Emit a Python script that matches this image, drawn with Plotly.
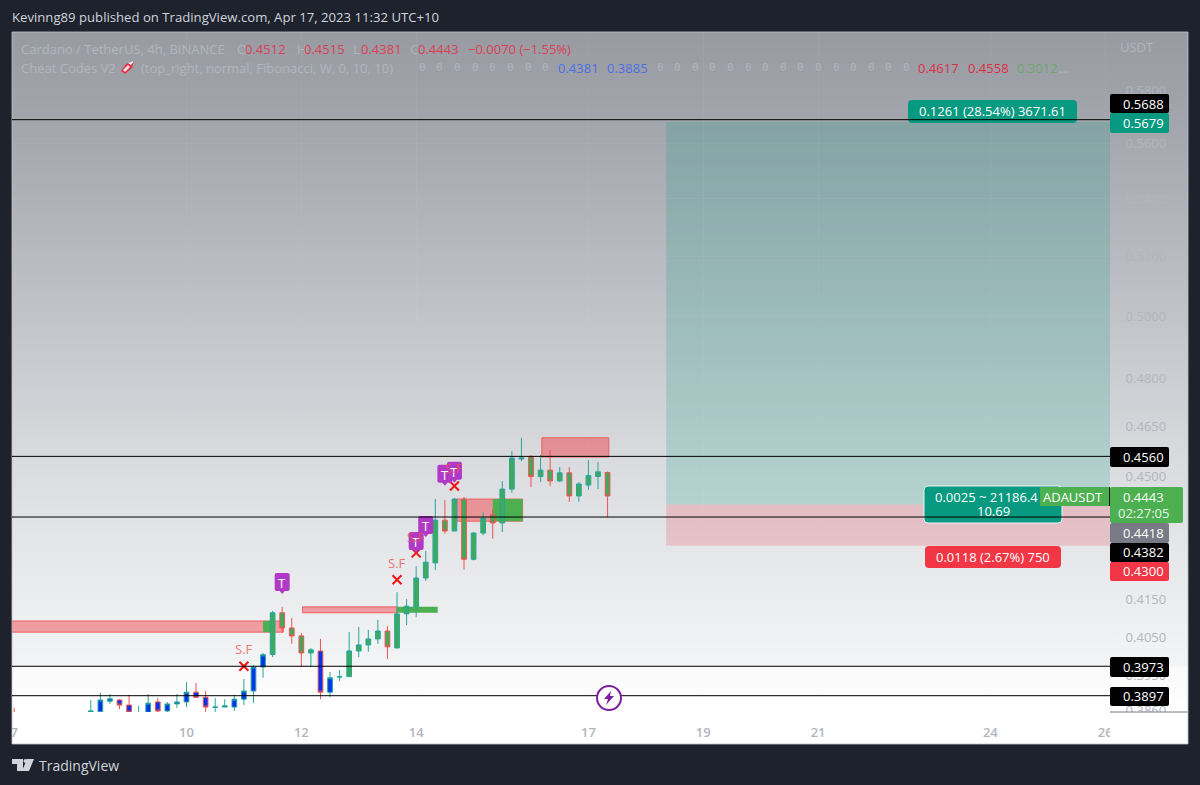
import math
import pandas as pd
import plotly.graph_objects as go

W, H = 1200, 785
FONT = "Open Sans"

# 4h candles for ADA/USDT: one early bar at the left edge, then a continuous run
bar_times = ["2023-04-07 00:00"] + [str(t) for t in pd.date_range("2023-04-08 08:00", periods=55, freq="4h")]
opens = [.3852, .3856, .3856, .3883, .3886, .3873, .3851, .3855, .3881, .3858, .3876, .3881, .3906, .3893, .3867,
         .3868, .3868, .3888, .3909, .3971, .4004, .4115, .4074, .4053, .4008, .4013, .3906, .3945, .3946, .4013,
         .4029, .4045, .4066, .4021, .4112, .4131, .4210, .4252, .4373, .4342, .4434, .4262, .4336, .4388, .4365,
         .4463, .4552, .4558, .4500, .4519, .4487, .4511, .4443, .4475, .4500, .4512]
highs = [.3866, .3886, .3904, .3901, .3888, .3899, .3871, .3901, .3891, .3881, .3901, .3932, .3930, .3909, .3891,
         .3888, .3899, .3940, .3976, .4008, .4120, .4131, .4101, .4061, .4021, .4045, .3958, .3963, .4063, .4077,
         .4069, .4096, .4079, .4171, .4152, .4243, .4285, .4434, .4431, .4437, .4440, .4339, .4396, .4405, .4487,
         .4576, .4616, .4564, .4564, .4579, .4528, .4528, .4484, .4549, .4543, .4515]
lows = [.3850, .3855, .3853, .3876, .3863, .3853, .3845, .3855, .3855, .3855, .3866, .3868, .3891, .3855, .3855,
        .3868, .3858, .3873, .3878, .3943, .3997, .4061, .4032, .3971, .3971, .3888, .3893, .3935, .3946, .3997,
        .4011, .4032, .3992, .4021, .4082, .4103, .4202, .4232, .4334, .4342, .4233, .4259, .4330, .4320, .4339,
        .4452, .4546, .4469, .4484, .4472, .4484, .4426, .4426, .4461, .4463, .4381]
closes = [.3850, .3858, .3886, .3889, .3873, .3855, .3853, .3878, .3858, .3876, .3881, .3906, .3893, .3868, .3868,
          .3871, .3888, .3909, .3971, .4003, .4115, .4074, .4053, .4008, .4016, .3906, .3943, .3946, .4013, .4029,
          .4045, .4066, .4024, .4112, .4133, .4210, .4254, .4373, .4342, .4434, .4262, .4336, .4379, .4365, .4463,
          .4555, .4555, .4500, .4519, .4487, .4511, .4443, .4478, .4503, .4514, .4443]
# Bars coloured blue by the indicator; the rest carry its green body
blue_bars = set(range(0, 20)) | {25, 26}

# Horizontal levels and the long-position tool
levels = [.5688, .4560, .4382, .3973, .3897]
last_price = .4443
entry, target, stop = .4418, .5679, .4300
position_start = "2023-04-18 08:30"

# Supply zones: start, end, bottom, top
red_zones = [("2023-04-06 23:00", "2023-04-11 16:30", .4063, .4093),
             ("2023-04-12 00:30", "2023-04-13 16:00", .4115, .4131),
             ("2023-04-14 17:00", "2023-04-15 20:30", .4370, .4434),
             ("2023-04-16 04:30", "2023-04-17 08:30", .4558, .4616)]
green_zones = [("2023-04-11 08:00", "2023-04-11 12:00", .4063, .4093),
               ("2023-04-13 16:00", "2023-04-14 09:00", .4115, .4131),
               ("2023-04-15 08:00", "2023-04-15 20:30", .4370, .4434)]

# Indicator markers
t_times = ["2023-04-11 16:00", "2023-04-14 00:00", "2023-04-14 04:00", "2023-04-14 12:00", "2023-04-14 16:00"]
t_prices = [.4196, .4311, .4356, .4505, .4514]
x_times = ["2023-04-11 00:00", "2023-04-13 16:00", "2023-04-14 00:00", "2023-04-14 16:00"]
x_prices = [.3973, .4205, .4280, .4472]
sf_prices = [.4018, .4252, .4325, .4525]

# Axis labels
date_ticks = ["2023-04-07", "2023-04-10", "2023-04-12", "2023-04-14", "2023-04-17", "2023-04-19", "2023-04-21",
              "2023-04-24", "2023-04-26"]
date_labels = ["7", "10", "12", "14", "17", "19", "21", "24", "26"]
price_ticks = [.58, .56, .54, .52, .50, .48, .465, .45, .415, .405, .395, .386]

# Backdrop shading from the top of the panel to the bottom
shade_pos = [32, 120, 300, 480, 620, 665, 667, 696, 698, 744]
shade_col = ["#999ba3", "#a3a5ad", "#bfc1c7", "#dcdee1", "#eeeff1", "#f3f4f5", "#fbfbfc", "#fcfcfd", "#ffffff", "#ffffff"]

DARK = "#1e222d"
TEAL = "#089981"
RED = "#f23645"
GREEN = "#4caf50"
PURPLE = "#b03ac6"
AXIS_TEXT = "#b2b5be"


def px(x):
    return x / W


def py(y):
    return 1 - y / H


def box_path(x0, y0, x1, y1, r=0):
    a, b, c, d = px(x0), py(y0), px(x1), py(y1)
    rx, ry = r / W, r / H
    return (f"M{a + rx},{b} L{c - rx},{b} Q{c},{b} {c},{b - ry} L{c},{d + ry} Q{c},{d} {c - rx},{d} "
            f"L{a + rx},{d} Q{a},{d} {a},{d + ry} L{a},{b - ry} Q{a},{b} {a + rx},{b} Z")


def poly(points):
    return "M" + " L".join(f"{px(x)},{py(y)}" for x, y in points) + " Z"


def paper_shape(path, fill, line=None, width=0):
    return dict(type="path", xref="paper", yref="paper", path=path, fillcolor=fill, layer="above",
                line=dict(color=line or "rgba(0,0,0,0)", width=width))


def label(x, y, text, color="#ffffff", size=13, anchor="center", family=FONT):
    return dict(xref="paper", yref="paper", x=px(x), y=py(y), text=text, showarrow=False, xanchor=anchor,
                yanchor="middle", font=dict(family=family, size=size, color=color), borderpad=0, borderwidth=0)


def price_label(when, price, text, color, size):
    # Annotations on a log axis take the log10 of the value
    return dict(xref="x2", yref="y2", x=when, y=math.log10(price), text=text, showarrow=False,
                xanchor="center", yanchor="middle", font=dict(family=FONT, size=size, color=color))


shapes = []
# Zones and position tool sit beneath the candles
for x0, x1, y0, y1 in red_zones:
    shapes.append(dict(type="rect", xref="x2", yref="y2", x0=x0, x1=x1, y0=y0, y1=y1, layer="below",
                       fillcolor="rgba(242,54,60,0.45)", line=dict(color="rgba(239,83,80,0.85)", width=1)))
for x0, x1, y0, y1 in green_zones:
    shapes.append(dict(type="rect", xref="x2", yref="y2", x0=x0, x1=x1, y0=y0, y1=y1, layer="below",
                       fillcolor=GREEN, line=dict(width=0)))
shapes.append(dict(type="rect", xref="x2", yref="y2", x0=position_start, x1="2023-04-26 02:00", y0=entry, y1=target,
                   layer="below", fillcolor="rgba(8,153,129,0.2)", line=dict(width=0)))
shapes.append(dict(type="rect", xref="x2", yref="y2", x0=position_start, x1="2023-04-26 02:00", y0=stop, y1=entry,
                   layer="below", fillcolor="rgba(242,54,69,0.2)", line=dict(width=0)))
shapes.append(dict(type="line", xref="x2 domain", yref="y2", x0=0, x1=1, y0=last_price, y1=last_price, layer="below",
                   line=dict(color="#6f8f7a", width=1, dash="dot")))

# T tags: a rounded badge with a small pointer, sized in pixels around its price
tag_path = ("M -5.5 10 L 5.5 10 Q 7.5 10 7.5 8 L 7.5 -6 Q 7.5 -8 5.5 -8 L 2.5 -8 L 0 -11 L -2.5 -8 L -5.5 -8 "
            "Q -7.5 -8 -7.5 -6 L -7.5 8 Q -7.5 10 -5.5 10 Z")
for when, price in zip(t_times, t_prices):
    shapes.append(dict(type="path", xref="x2", yref="y2", xsizemode="pixel", ysizemode="pixel", xanchor=when,
                       yanchor=price, path=tag_path, fillcolor=PURPLE, layer="above", line=dict(width=0)))

# Frame cover: keeps the clipped edge tick labels inside the panel
shapes += [
    paper_shape(box_path(0, 32, 12, 744), DARK),
    paper_shape(box_path(1110, 712, 1188, 744), "#ffffff"),
    dict(type="line", xref="paper", yref="paper", x0=px(1110), x1=px(1188), y0=py(712), y1=py(712), layer="above",
         line=dict(color="#787b86", width=1)),
    dict(type="rect", xref="paper", yref="paper", x0=px(12), x1=px(1188), y0=py(744), y1=py(32), layer="above",
         fillcolor="rgba(0,0,0,0)", line=dict(color="rgba(190,192,198,0.8)", width=1)),
]

# Position labels
shapes += [
    paper_shape(box_path(908, 100, 1077, 123, 4), TEAL),
    paper_shape(box_path(924, 486, 1062, 523, 4), TEAL, "#e8f4f2", 1),
    paper_shape(box_path(925, 546, 1061, 568, 4), RED),
    paper_shape(box_path(1040, 487, 1110, 506), GREEN),
    dict(type="line", xref="paper", yref="paper", x0=px(1109.5), x1=px(1109.5), y0=py(487), y1=py(506), layer="above",
         line=dict(color="#111111", width=1)),
]

# Price scale badges
for y0, y1, col, x1 in [(94, 113, "#000000", 1169), (113, 133, TEAL, 1169), (447, 467, "#000000", 1169),
                        (487, 523, GREEN, 1183), (523, 543, "#787b86", 1169), (543, 562, "#000000", 1169),
                        (562, 581, RED, 1169), (657, 677, "#000000", 1169), (687, 706, "#000000", 1169)]:
    shapes.append(paper_shape(box_path(1110, y0, x1, y1, 2), col))

# Price levels run across the panel, over the labels
for lv in levels:
    shapes.append(dict(type="line", xref="x2 domain", yref="y2", x0=0, x1=1, y0=lv, y1=lv, layer="above",
                       line=dict(color="#000000", width=1)))

# Lightning badge
shapes.append(dict(type="circle", xref="paper", yref="paper", layer="above", x0=px(597), x1=px(621), y0=py(710),
                   y1=py(686), fillcolor="#ffffff", line=dict(color="#7b1fa2", width=2)))
shapes.append(paper_shape(poly([(611, 691), (604, 699), (608, 699), (606, 705), (614, 696), (610, 696)]), "#7b1fa2"))

# Rocket glyph after the indicator name
shapes.append(paper_shape(poly([(134, 61), (132, 68), (125, 74), (121, 71), (126, 64)]), "#e0334a"))
shapes.append(paper_shape(poly([(134, 61), (131, 65), (128, 63)]), "#f4f4f4"))
shapes.append(paper_shape(poly([(128, 65), (130, 67), (125, 72), (123, 70)]), "#f6dfe2"))

# Brand mark in the footer
shapes += [
    paper_shape(poly([(12, 759), (23, 759), (23, 771), (17, 771), (17, 764), (12, 764)]), "#d1d4dc"),
    paper_shape(poly([(27, 759), (34, 759), (29, 771), (22, 771)]), "#d1d4dc"),
    dict(type="circle", xref="paper", yref="paper", layer="above", x0=px(23.5), x1=px(27.5), y0=py(763), y1=py(759),
         fillcolor="#d1d4dc", line=dict(width=0)),
]

annotations = [
    label(12, 17, "Kevinng89 published on TradingView.com, Apr 17, 2023 11:32 UTC+10", "#d1d4dc", 13.15, "left"),
    label(119, 765, "TradingView", "#d1d4dc", 14, "right"),
    label(21, 49, "Cardano / TetherUS, 4h, BINANCE", AXIS_TEXT, 13, "left"),
    label(21, 68, "Cheat Codes V2", AXIS_TEXT, 13, "left"),
    label(141, 68, "(top_right, normal, Fibonacci, W, 0, 10, 10)", AXIS_TEXT, 13, "left"),
    label(1120, 47, "USDT", AXIS_TEXT, 13, "left"),
]
for x, letter, value in [(237, "O", "0.4512"), (297, "H", "0.4515"), (353, "L", "0.4381"), (410, "C", "0.4443")]:
    annotations.append(label(x, 49, letter, AXIS_TEXT, 13, "left"))
    annotations.append(label(x + (8 if letter != "H" else 7), 49, value, "#dc3f52", 13, "left"))
annotations.append(label(468, 49, "−0.0070 (−1.55%)", "#dc3f52", 13, "left"))
for i in range(8):
    annotations.append(label(422 + i * 17.7, 68, "0", AXIS_TEXT, 11, "center", "DejaVu Sans Mono"))
for i in range(15):
    annotations.append(label(660 + i * 17.6, 68, "0", AXIS_TEXT, 11, "center", "DejaVu Sans Mono"))
for x, value, col in [(558, "0.4381", "#4a6fe3"), (607, "0.3885", "#4a6fe3"), (918, "0.4617", "#dc2f3f"),
                      (968, "0.4558", "#dc2f3f"), (1017, "0.3012", "#6aa86a")]:
    annotations.append(label(x, 68, value, col, 13, "left"))
annotations.append(label(1059, 68, "…", AXIS_TEXT, 13, "left"))

annotations += [
    label(992.5, 111, "0.1261 (28.54%) 3671.61"),
    label(986, 497, "0.0025 ~ 21186.4"),
    label(993, 511, "10.69"),
    label(993, 557, "0.0118 (2.67%) 750"),
    label(1073, 497, "ADAUSDT"),
    label(1143, 104, "0.5688"),
    label(1143, 123, "0.5679"),
    label(1143, 457, "0.4560"),
    label(1143, 497, "0.4443"),
    label(1143, 513, "02:27:05", "#eaf5ea"),
    label(1143, 533, "0.4418"),
    label(1143, 552, "0.4382"),
    label(1143, 571, "0.4300"),
    label(1143, 667, "0.3973"),
    label(1143, 696, "0.3897"),
]
annotations += [price_label(when, price, "T", "#ffffff", 13) for when, price in zip(t_times, t_prices)]
annotations += [price_label(when, price, "S.F", "rgba(239,83,80,0.8)", 13) for when, price in zip(x_times, sf_prices)]

fig = go.Figure()

# Backdrop lives on its own axes so it stays behind the price panel
stops = [[(p - shade_pos[0]) / (shade_pos[-1] - shade_pos[0]), c] for p, c in zip(shade_pos, shade_col)]
fig.add_trace(go.Heatmap(x=[0, 1], y=[shade_pos[0], shade_pos[-1]],
                         z=[[shade_pos[0]] * 2, [shade_pos[-1]] * 2], zmin=shade_pos[0], zmax=shade_pos[-1],
                         zsmooth="best", colorscale=stops, showscale=False, hoverinfo="skip", xaxis="x", yaxis="y"))

for body, members in [("#0033ee", [i for i in range(len(opens)) if i in blue_bars]),
                      ("#3fa95c", [i for i in range(len(opens)) if i not in blue_bars])]:
    fig.add_trace(go.Candlestick(
        x=[bar_times[i] for i in members], open=[opens[i] for i in members], high=[highs[i] for i in members],
        low=[lows[i] for i in members], close=[closes[i] for i in members], xaxis="x2", yaxis="y2",
        whiskerwidth=0, showlegend=False,
        increasing=dict(line=dict(color="#26a69a", width=1), fillcolor=body),
        decreasing=dict(line=dict(color="#ef5350", width=1), fillcolor=body)))

# Sell-flag crosses
fig.add_trace(go.Scatter(x=x_times, y=x_prices, mode="markers", xaxis="x2", yaxis="y2", showlegend=False,
                         marker=dict(symbol="x-thin", size=9, line=dict(color="#f01414", width=2))))

y_low, y_high = -0.41392, -0.22004  # log10 of the visible price span
fig.update_layout(
    width=W, height=H, autosize=False, margin=dict(l=0, r=0, t=0, b=0, autoexpand=False),
    paper_bgcolor=DARK, plot_bgcolor="rgba(0,0,0,0)", showlegend=False, hovermode=False,
    shapes=shapes, annotations=annotations,
    xaxis=dict(domain=[px(12), px(1188)], range=[0, 1], visible=False, fixedrange=True),
    yaxis=dict(domain=[py(744), py(32)], range=[744, 32], visible=False, fixedrange=True),
    xaxis2=dict(domain=[px(12), px(1110)], range=["2023-04-06 23:04", "2023-04-26 02:00"], type="date", anchor="y2",
                rangeslider=dict(visible=False), tickmode="array", tickvals=date_ticks, ticktext=date_labels,
                tickfont=dict(family=FONT, size=13, color=AXIS_TEXT, weight=600), ticks="outside", ticklen=8,
                tickcolor="rgba(0,0,0,0)", showline=False, zeroline=False,
                gridcolor="rgba(240,243,250,0.05)", gridwidth=1),
    yaxis2=dict(domain=[py(712), py(32)], type="log", range=[y_low, y_high], anchor="x2", side="right",
                tickmode="array", tickvals=price_ticks, ticktext=[f"{v:.4f}" for v in price_ticks],
                tickfont=dict(family=FONT, size=13, color=AXIS_TEXT), ticks="outside", ticklen=12,
                tickcolor="rgba(0,0,0,0)", showline=False, zeroline=False,
                gridcolor="rgba(240,243,250,0.05)", gridwidth=1),
)

fig.write_html("out.html", config=dict(displayModeBar=False))
